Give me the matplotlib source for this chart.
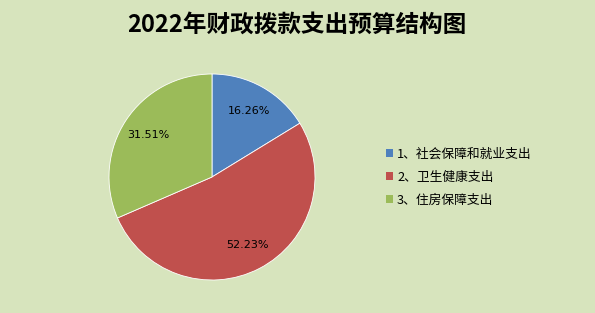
import matplotlib
matplotlib.use("Agg")
import matplotlib.pyplot as plt
from matplotlib.patches import Patch
import numpy as np

plt.rcParams['font.family'] = ['Noto Sans CJK SC', 'DejaVu Sans']

title = "2022年财政拨款支出预算结构图"
categories = ["1、社会保障和就业支出", "2、卫生健康支出", "3、住房保障支出"]
values = [16.26, 52.23, 31.51]
labels = ["16.26%", "52.23%", "31.51%"]
colors = ["#4F81BD", "#C0504D", "#9BBB59"]
bg = "#D7E4BD"

W, H = 595, 313
fig = plt.figure(figsize=(W / 100, H / 100), dpi=100, facecolor=bg)

cx, cy, r = 212, 177, 103
ax = fig.add_axes([(cx - r) / W, 1 - (cy + r) / H, 2 * r / W, 2 * r / H])
ax.set_facecolor(bg)
wedges, _ = ax.pie(values, colors=colors, startangle=90, counterclock=False,
                   radius=1.0, wedgeprops=dict(linewidth=0.6, edgecolor="white"))
for w, lab in zip(wedges, labels):
    ang = np.deg2rad((w.theta1 + w.theta2) / 2)
    ax.text(0.74 * np.cos(ang), 0.74 * np.sin(ang), lab, ha="center", va="center",
            fontsize=8, family=['DejaVu Sans'], color="black")
ax.set_xlim(-1, 1)
ax.set_ylim(-1, 1)
ax.set_aspect("equal")
ax.axis("off")

fig.text(297 / W, 1 - 25 / H, title, ha="center", va="center", fontsize=17,
         fontweight="bold")

handles = [Patch(facecolor=c, edgecolor="none") for c in colors]
leg = fig.legend(handles, categories, loc="center left",
                 bbox_to_anchor=(374 / W, 1 - 177 / H), frameon=False,
                 fontsize=9.2, handlelength=0.55, handleheight=0.55,
                 handletextpad=0.35, labelspacing=0.8)

fig.savefig("out.png", dpi=100, facecolor=bg)
